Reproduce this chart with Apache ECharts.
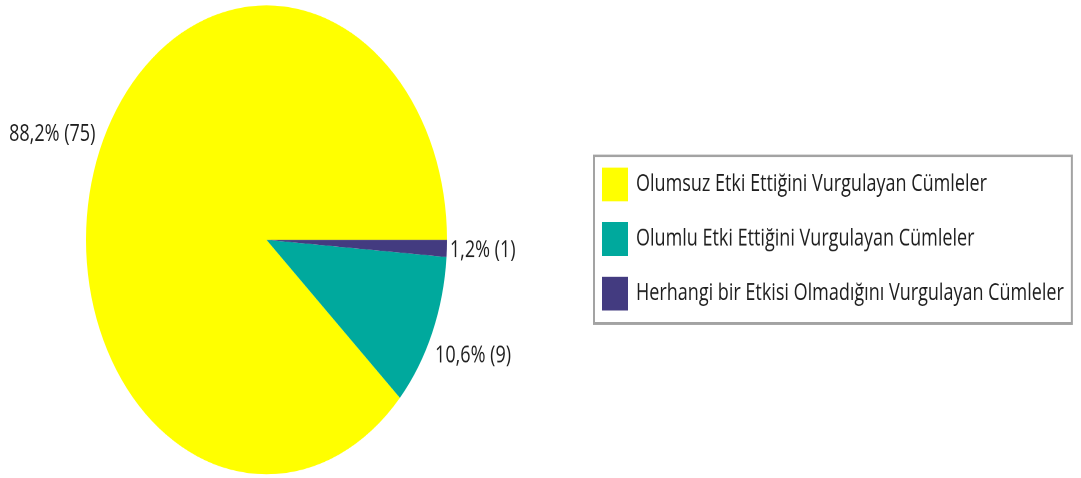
<!DOCTYPE html>
<html>
<head>
<meta charset="utf-8">
<script src="https://cdn.jsdelivr.net/npm/echarts@6/dist/echarts.min.js"></script>
<style>
    html, body { margin: 0; padding: 0; background: #fff; }
    #wrap { width: 1081px; height: 478px; overflow: hidden; position: relative; }
    /* the reference is stretched vertically (round pie -> ellipse), so draw flat and stretch */
    #chart { position: absolute; left: 0; top: 0; width: 1081px; height: 368px; transform: scaleY(1.299); transform-origin: 0 0; }
</style>
</head>
<body>
<div id="wrap"><div id="chart"></div></div>
<script>
// data
var names = ['Olumsuz Etki Ettiğini Vurgulayan Cümleler', 'Olumlu Etki Ettiğini Vurgulayan Cümleler', 'Herhangi bir Etkisi Olmadığını Vurgulayan Cümleler'];
var counts = [75, 9, 1];
var colors = ['#ffff00', '#00a99d', '#433b80'];

// pie geometry (unstretched pixels)
var CX = 266.5, CY = 184.6, R = 180.5;

var total = counts.reduce(function (a, b) { return a + b; }, 0);

//中间角度(逆时针, 从右边开始)
function midAngle(i) {
    var start = 0;
    for (var k = 0; k < i; k++) start += counts[k];
    return (start + counts[i] / 2) / total * Math.PI * 2;
}

window.onload = function () {
    var chart = echarts.init(document.getElementById('chart'), null, { devicePixelRatio: 2 });

    var option = {
        animation: false,
        backgroundColor: '#fff',
        color: colors,
        legend: {
            orient: 'vertical',
            left: 594,
            top: 120,
            padding: [9, 8, 10, 8],
            itemWidth: 26,
            itemHeight: 26,
            itemGap: 16,
            icon: 'rect',
            borderColor: '#a3a3a3',
            borderWidth: 2,
            backgroundColor: '#fff',
            itemStyle: { borderWidth: 0 },
            textStyle: { color: '#1e1e1e', fontSize: 18, fontFamily: 'Open Sans', padding: [0, 0, 0, 3] },
            data: names
        },
        series: [{
            type: 'pie',
            center: [CX, CY],
            radius: R,
            startAngle: 0,
            clockwise: false,
            percentPrecision: 1,
            itemStyle: { borderWidth: 0 },
            label: {
                show: true,
                position: 'outside',
                color: '#1e1e1e',
                fontSize: 18,
                fontFamily: 'Open Sans',
                overflow: 'none',
                formatter: function (p) {
                    return String(p.percent).replace('.', ',') + '% (' + p.value + ')';
                }
            },
            labelLine: { show: false },
            labelLayout: function (p) {
                var a = midAngle(p.dataIndex);
                return {
                    x: CX + (R + 3) * Math.cos(a),
                    y: CY - (R + 45) * Math.sin(a),
                    align: Math.cos(a) < 0 ? 'right' : 'left',
                    verticalAlign: 'middle'
                };
            },
            data: names.map(function (n, i) { return { name: n, value: counts[i] }; })
        }]
    };

    chart.setOption(option);
};
</script>
</body>
</html>
